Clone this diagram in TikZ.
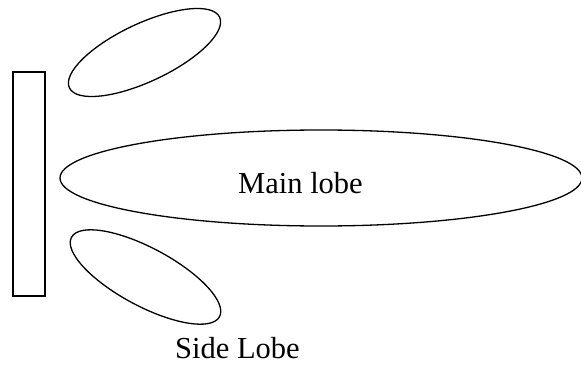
\documentclass[tikz,border=0pt]{standalone}
\usepackage{fontspec}
\setmainfont{Liberation Serif}
\begin{document}
\begin{tikzpicture}[x=1pt,y=1pt,
  outline/.style={draw=black,line width=1.3pt},
  label/.style={font=\fontsize{30.5}{36}\selectfont,inner sep=0pt,anchor=base}]
\useasboundingbox (0,0) rectangle (581,365);
% antenna element
\draw[outline] (13,69) rectangle (45,293);
% main lobe
\draw[outline] (321,187) ellipse [x radius=261, y radius=48];
% upper side lobe
\draw[outline,rotate around={25.2:(144.5,312.5)}] (144.5,312.5) ellipse [x radius=83, y radius=29];
% lower side lobe
\draw[outline,rotate around={-28.2:(145.5,88)}] (145.5,88) ellipse [x radius=84, y radius=29];
% labels
\node[label] (mainlabel) at (300.5,172) {Main lobe};
\node[label] (sidelabel) at (237.5,7) {Side Lobe};
\end{tikzpicture}
\end{document}
